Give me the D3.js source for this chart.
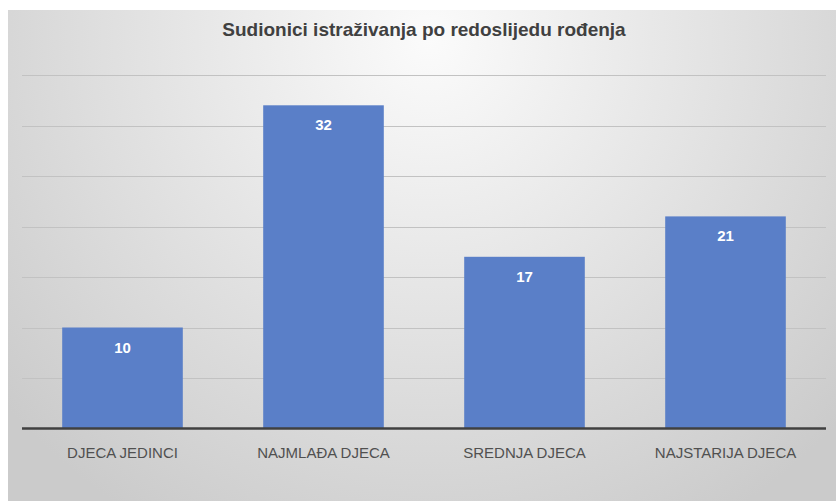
<!DOCTYPE html>
<html>
<head>
<meta charset="utf-8">
<script src="https://cdn.jsdelivr.net/npm/d3@7"></script>
<style>
  body { margin: 0; background: #fff; }
  svg { display: block; }
</style>
</head>
<body>
<svg id="chart" width="836" height="501"></svg>
<script>
// podaci
var categories = ["DJECA JEDINCI", "NAJMLAĐA DJECA", "SREDNJA DJECA", "NAJSTARIJA DJECA"];
var values = [10, 32, 17, 21];
var gridTicks = [5, 10, 15, 20, 25, 30, 35];
var chartTitle = "Sudionici istraživanja po redoslijedu rođenja";

var W = 836, H = 501;
var plot = { left: 22, right: 826, top: 75, bottom: 428.5 };
var font = "'Liberation Sans', Arial, sans-serif";

var svg = d3.select("svg#chart");

// pozadina s gradijentom
var defs = svg.append("defs");
var grad = defs.append("radialGradient")
   .attr("id", "bg")
   .attr("gradientUnits", "userSpaceOnUse")
   .attr("cx", 430).attr("cy", 40).attr("r", 560);
grad.append("stop").attr("offset", "0%").attr("stop-color", "#fbfbfb");
grad.append("stop").attr("offset", "100%").attr("stop-color", "#cbcbcb");

svg.append("rect")
   .attr("x", 8).attr("y", 10)
   .attr("width", W - 8).attr("height", H - 10)
   .attr("fill", "url(#bg)");

var x = d3.scaleBand()
   .domain(categories)
   .range([plot.left, plot.right])
   .paddingInner(0.4)
   .paddingOuter(0.2);

var y = d3.scaleLinear()
   .domain([0, 35])
   .range([plot.bottom, plot.top]);

// mreža
svg.append("g")
   .selectAll("line")
   .data(gridTicks)
   .enter()
   .append("line")
   .attr("x1", plot.left).attr("x2", plot.right)
   .attr("y1", function (d) { return Math.round(y(d)) + 0.5; })
   .attr("y2", function (d) { return Math.round(y(d)) + 0.5; })
   .attr("stroke", "#c2c2c2")
   .attr("stroke-width", 1);

// stupci
svg.append("g")
   .selectAll("rect")
   .data(values)
   .enter()
   .append("rect")
   .attr("x", function (d, i) { return x(categories[i]); })
   .attr("y", function (d) { return y(d); })
   .attr("width", x.bandwidth())
   .attr("height", function (d) { return y(0) - y(d); })
   .attr("fill", "#5a7fc8");

// oznake vrijednosti
svg.append("g")
   .selectAll("text")
   .data(values)
   .enter()
   .append("text")
   .attr("x", function (d, i) { return x(categories[i]) + x.bandwidth() / 2; })
   .attr("y", function (d) { return y(d) + 25; })
   .attr("text-anchor", "middle")
   .attr("font-family", font)
   .attr("font-weight", "bold")
   .attr("font-size", 15)
   .attr("fill", "#ffffff")
   .text(function (d) { return d; });

// os x
var xAxis = svg.append("g")
   .attr("transform", "translate(0," + plot.bottom + ")")
   .call(d3.axisBottom(x).tickSize(0).tickPadding(19));
xAxis.select(".domain")
   .attr("d", "M" + plot.left + ",0H" + plot.right)
   .attr("stroke", "#404040")
   .attr("stroke-width", 2.5);
xAxis.selectAll("text")
   .attr("font-family", font)
   .attr("font-size", 15)
   .attr("fill", "#505050");

// naslov
svg.append("text")
   .attr("x", 424)
   .attr("y", 36)
   .attr("text-anchor", "middle")
   .attr("font-family", font)
   .attr("font-weight", "bold")
   .attr("font-size", 19)
   .attr("fill", "#404040")
   .text(chartTitle);
</script>
</body>
</html>
